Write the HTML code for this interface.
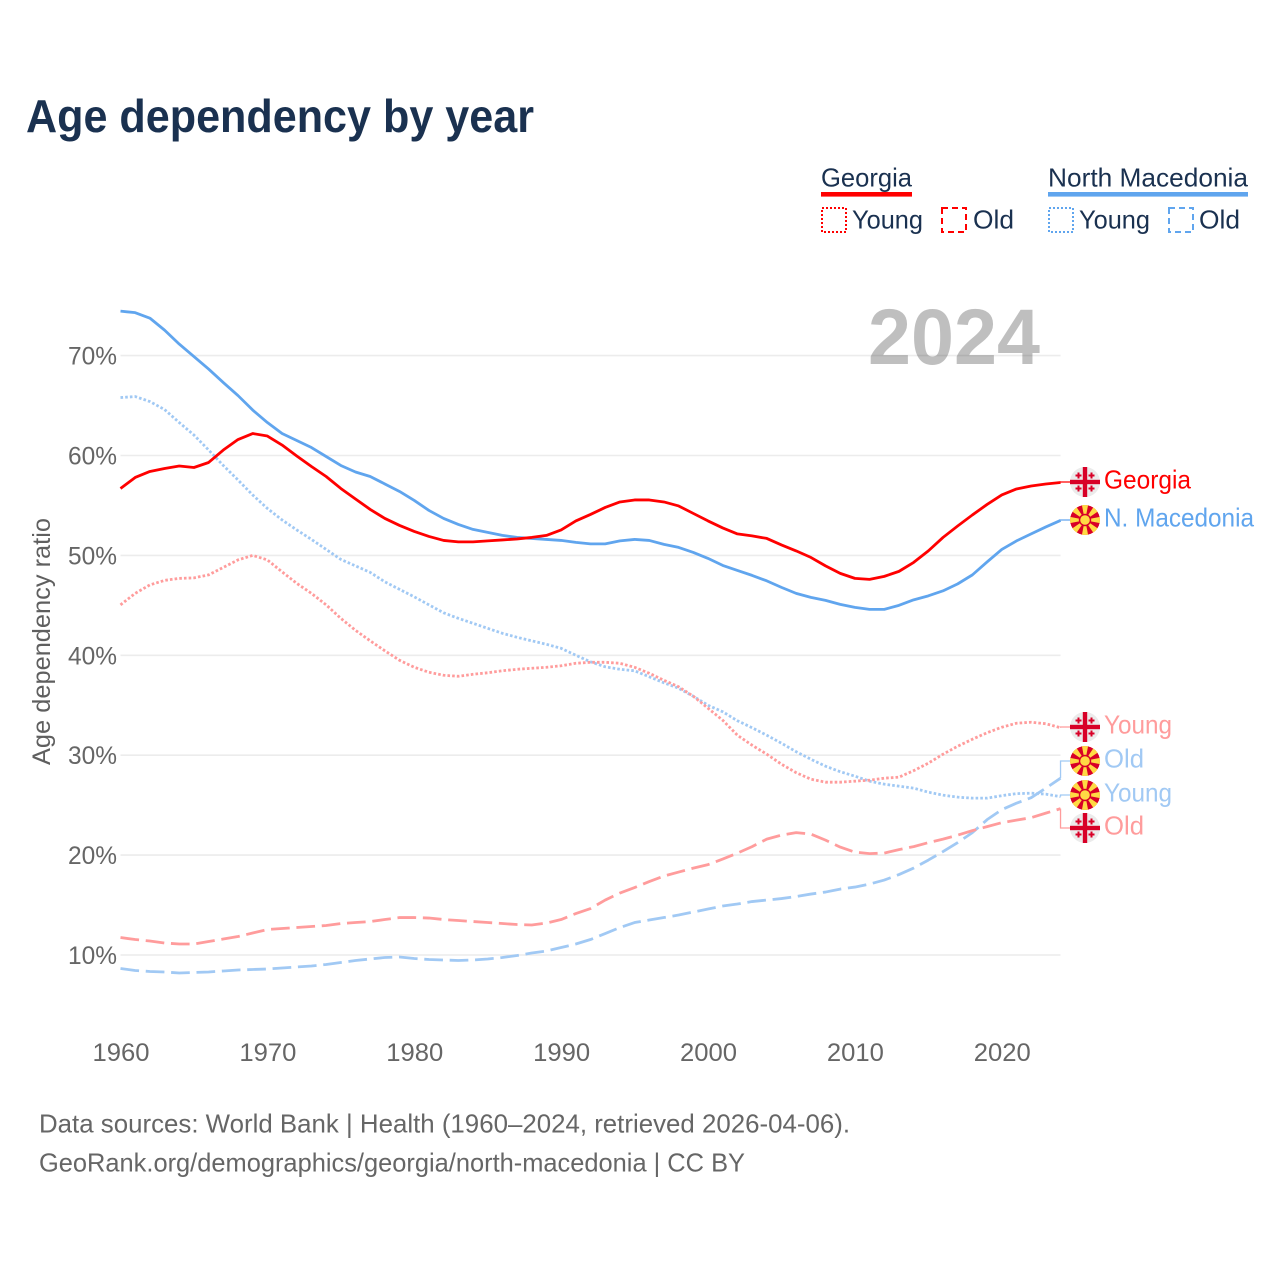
<!DOCTYPE html>
<html lang="en">
<head>
<meta charset="utf-8">
<title>Age dependency by year</title>
<style>
html,body{margin:0;padding:0;background:#fff;width:1280px;height:1280px;overflow:hidden}
svg{display:block}
text{font-family:"Liberation Sans",sans-serif}
</style>
</head>
<body>
<svg id="chart" xmlns="http://www.w3.org/2000/svg" width="1280" height="1280" viewBox="0 0 1280 1280">
<defs>
  <g id="flag-ge">
    <circle r="15" fill="#ebebeb"/>
    <rect x="-2.2" y="-15" width="4.4" height="30" fill="#d80027"/>
    <rect x="-15" y="-2.2" width="30" height="4.4" fill="#d80027"/>
    <g fill="#d80027">
      <path d="M-7.5-9.5h2v2h2v2h-2v2h-2v-2h-2v-2h2z"/>
      <path d="M5.5-9.5h2v2h2v2h-2v2h-2v-2h-2v-2h2z"/>
      <path d="M-7.5 3.5h2v2h2v2h-2v2h-2v-2h-2v-2h2z"/>
      <path d="M5.5 3.5h2v2h2v2h-2v2h-2v-2h-2v-2h2z"/>
    </g>
  </g>
  <clipPath id="flag-clip"><circle r="15"/></clipPath>
  <g id="flag-mk" clip-path="url(#flag-clip)">
    <circle r="15" fill="#d80027"/>
    <g fill="#ffda44">
      <path d="M-3.2-15.5h6.4L1-4h-2z"/>
      <path d="M-3.2-15.5h6.4L1-4h-2z" transform="rotate(45)"/>
      <path d="M-3.2-15.5h6.4L1-4h-2z" transform="rotate(90)"/>
      <path d="M-3.2-15.5h6.4L1-4h-2z" transform="rotate(135)"/>
      <path d="M-3.2-15.5h6.4L1-4h-2z" transform="rotate(180)"/>
      <path d="M-3.2-15.5h6.4L1-4h-2z" transform="rotate(225)"/>
      <path d="M-3.2-15.5h6.4L1-4h-2z" transform="rotate(270)"/>
      <path d="M-3.2-15.5h6.4L1-4h-2z" transform="rotate(315)"/>
    </g>
    <circle r="6.2" fill="#d80027"/>
    <circle r="4.8" fill="#ffda44"/>
  </g>
</defs>

<text x="26" y="132" font-size="46" font-weight="700" fill="#1a3150" textLength="508" lengthAdjust="spacingAndGlyphs">Age dependency by year</text>

<g>
  <text x="821" y="186.5" font-size="26" fill="#1a3150" textLength="91" lengthAdjust="spacingAndGlyphs">Georgia</text>
  <rect x="821" y="192" width="91" height="4.6" fill="#ff0000"/>
  <rect x="822" y="208" width="24" height="24" fill="none" stroke="#ff0000" stroke-width="2" stroke-dasharray="2 2"/>
  <text x="852" y="228.5" font-size="26" fill="#1a3150" textLength="71" lengthAdjust="spacingAndGlyphs">Young</text>
  <rect x="942" y="208" width="24" height="24" fill="none" stroke="#ff0000" stroke-width="2" stroke-dasharray="6 4"/>
  <text x="973" y="228.5" font-size="26" fill="#1a3150" textLength="41" lengthAdjust="spacingAndGlyphs">Old</text>

  <text x="1048" y="186.5" font-size="26" fill="#1a3150" textLength="200" lengthAdjust="spacingAndGlyphs">North Macedonia</text>
  <rect x="1048" y="192" width="200" height="4.6" fill="#60a5ee"/>
  <rect x="1049" y="208" width="24" height="24" fill="none" stroke="#60a5ee" stroke-width="2" stroke-dasharray="2 2"/>
  <text x="1079" y="228.5" font-size="26" fill="#1a3150" textLength="71" lengthAdjust="spacingAndGlyphs">Young</text>
  <rect x="1169" y="208" width="24" height="24" fill="none" stroke="#60a5ee" stroke-width="2" stroke-dasharray="6 4"/>
  <text x="1199" y="228.5" font-size="26" fill="#1a3150" textLength="41" lengthAdjust="spacingAndGlyphs">Old</text>
</g>

<g id="grid"></g>
<g id="yticks"></g>
<g id="xticks"></g>

<text x="868" y="364" font-size="79" font-weight="700" fill="#000000" fill-opacity="0.25" textLength="172" lengthAdjust="spacingAndGlyphs">2024</text>

<text transform="translate(50,765) rotate(-90)" font-size="25" fill="#5f5f5f" textLength="247" lengthAdjust="spacingAndGlyphs">Age dependency ratio</text>

<g id="series"></g>
<g id="connectors"></g>

<g>
  <use href="#flag-ge" x="1085" y="482"/>
  <text x="1104" y="488.5" font-size="26" fill="#ff0000" textLength="87" lengthAdjust="spacingAndGlyphs">Georgia</text>
  <use href="#flag-mk" x="1085" y="520"/>
  <text x="1104" y="526.5" font-size="26" fill="#60a5ee" textLength="150" lengthAdjust="spacingAndGlyphs">N. Macedonia</text>
  <use href="#flag-ge" x="1085" y="727"/>
  <text x="1104" y="733.5" font-size="26" fill="#ff9c9c" textLength="68" lengthAdjust="spacingAndGlyphs">Young</text>
  <use href="#flag-mk" x="1085" y="761"/>
  <text x="1104" y="767.5" font-size="26" fill="#a1c9f4" textLength="40" lengthAdjust="spacingAndGlyphs">Old</text>
  <use href="#flag-mk" x="1085" y="795"/>
  <text x="1104" y="801.5" font-size="26" fill="#a1c9f4" textLength="68" lengthAdjust="spacingAndGlyphs">Young</text>
  <use href="#flag-ge" x="1085" y="828"/>
  <text x="1104" y="834.5" font-size="26" fill="#ff9c9c" textLength="40" lengthAdjust="spacingAndGlyphs">Old</text>
</g>

<text x="39" y="1132.5" font-size="26" fill="#666666" textLength="811" lengthAdjust="spacingAndGlyphs">Data sources: World Bank | Health (1960–2024, retrieved 2026-04-06).</text>
<text x="39" y="1171.5" font-size="26" fill="#666666" textLength="706" lengthAdjust="spacingAndGlyphs">GeoRank.org/demographics/georgia/north-macedonia | CC BY</text>
</svg>

<script>
const firstYear = 1960;
const xTickLabels = [1960, 1970, 1980, 1990, 2000, 2010, 2020];
const yTickLabels = [10, 20, 30, 40, 50, 60, 70];

const georgiaTotal = [56.7,57.8,58.4,58.7,58.95,58.8,59.3,60.55,61.6,62.2,
61.95,61.05,59.95,58.9,57.9,56.7,55.65,54.6,53.7,53.0,
52.4,51.9,51.5,51.35,51.35,51.45,51.55,51.65,51.8,52.0,
52.55,53.45,54.1,54.8,55.35,55.55,55.55,55.35,54.95,54.2,
53.45,52.75,52.15,51.95,51.7,51.05,50.45,49.8,48.95,48.2,
47.7,47.6,47.9,48.4,49.3,50.45,51.8,52.95,54.05,55.1,
56.05,56.65,56.95,57.15,57.3];

const macedoniaTotal = [74.45,74.3,73.75,72.55,71.15,69.9,68.65,67.3,66.0,64.55,
63.3,62.2,61.5,60.8,59.9,59.0,58.35,57.9,57.15,56.4,
55.5,54.5,53.7,53.1,52.6,52.3,52.0,51.8,51.7,51.6,
51.5,51.3,51.15,51.15,51.45,51.6,51.5,51.1,50.8,50.3,
49.7,49.0,48.5,48.0,47.45,46.8,46.2,45.8,45.5,45.1,
44.8,44.6,44.6,45.0,45.55,45.95,46.45,47.15,48.05,49.35,
50.6,51.45,52.15,52.85,53.5];

const georgiaYoung = [45.05,46.2,47.05,47.5,47.7,47.75,48.05,48.8,49.55,50.0,
49.55,48.35,47.2,46.2,45.05,43.7,42.5,41.45,40.45,39.5,
38.8,38.3,38.0,37.9,38.1,38.25,38.45,38.6,38.7,38.8,
38.95,39.2,39.3,39.3,39.2,38.8,38.2,37.5,36.85,35.9,
34.7,33.5,32.0,31.0,30.1,29.1,28.25,27.6,27.3,27.3,
27.4,27.5,27.7,27.8,28.45,29.2,30.1,30.9,31.6,32.25,
32.8,33.2,33.3,33.15,32.75];

const macedoniaYoung = [65.8,65.9,65.4,64.6,63.3,62.05,60.55,59.0,57.55,56.05,
54.7,53.55,52.55,51.6,50.6,49.6,48.95,48.3,47.35,46.6,
45.85,45.05,44.25,43.7,43.2,42.7,42.2,41.8,41.45,41.1,
40.7,40.0,39.35,38.85,38.6,38.45,37.85,37.25,36.7,35.9,
35.0,34.35,33.45,32.75,32.0,31.2,30.35,29.6,28.9,28.35,
27.9,27.4,27.1,26.9,26.7,26.3,26.0,25.8,25.7,25.7,
25.95,26.15,26.2,26.1,25.85];

const georgiaOld = [11.75,11.55,11.4,11.2,11.1,11.1,11.35,11.6,11.85,12.2,
12.55,12.65,12.75,12.85,12.95,13.15,13.25,13.35,13.55,13.75,
13.75,13.7,13.55,13.45,13.35,13.25,13.15,13.05,13.0,13.2,
13.55,14.15,14.65,15.5,16.2,16.75,17.35,17.9,18.3,18.7,
19.05,19.6,20.2,20.85,21.6,22.0,22.25,22.1,21.5,20.8,
20.3,20.15,20.2,20.55,20.85,21.25,21.6,22.0,22.45,22.85,
23.25,23.5,23.75,24.2,24.65];

const macedoniaOld = [8.65,8.45,8.35,8.3,8.2,8.25,8.3,8.4,8.5,8.55,
8.6,8.7,8.8,8.9,9.05,9.25,9.45,9.6,9.75,9.8,
9.65,9.55,9.5,9.45,9.5,9.6,9.75,9.95,10.2,10.4,
10.75,11.1,11.55,12.15,12.75,13.25,13.5,13.75,14.0,14.3,
14.6,14.9,15.1,15.35,15.5,15.65,15.85,16.1,16.3,16.6,
16.8,17.1,17.5,18.05,18.7,19.5,20.35,21.25,22.25,23.55,
24.55,25.2,25.75,26.7,27.7];

const SVGNS = 'http://www.w3.org/2000/svg';
const xScale = function (year) { return 120.5 + (year - firstYear) * 14.688; };
const yScale = function (value) { return 1054.9 - value * 9.99; };
const pathFrom = function (values) {
  return values.map(function (v, i) {
    return (i ? 'L' : 'M') + xScale(firstYear + i).toFixed(2) + ' ' + yScale(v).toFixed(2);
  }).join('');
};
const lastYear = firstYear + georgiaTotal.length - 1;
const endX = xScale(lastYear);

const gridLayer = document.getElementById('grid');
const yTickLayer = document.getElementById('yticks');
const xTickLayer = document.getElementById('xticks');
const seriesLayer = document.getElementById('series');
const connectorLayer = document.getElementById('connectors');

yTickLabels.forEach(function (tick) {
  const line = document.createElementNS(SVGNS, 'line');
  
  
  line.setAttribute('x1', xScale(firstYear));
  line.setAttribute('x2', endX);
  line.setAttribute('y1', yScale(tick));
  line.setAttribute('y2', yScale(tick));
  line.setAttribute('stroke', '#ececec');
  line.setAttribute('stroke-width', '1.6');
  gridLayer.appendChild(line);

  const label = document.createElementNS(SVGNS, 'text');
  
  
  label.setAttribute('x', 68);
  label.setAttribute('y', yScale(tick) + 9);
  label.setAttribute('font-size', '25');
  label.setAttribute('fill', '#666666');
  label.setAttribute('textLength', '49');
  label.setAttribute('lengthAdjust', 'spacingAndGlyphs');
  label.textContent = tick + '%';
  yTickLayer.appendChild(label);
});

xTickLabels.forEach(function (year) {
  const label = document.createElementNS(SVGNS, 'text');
  
  
  label.setAttribute('x', xScale(year) - 28);
  label.setAttribute('y', 1061);
  label.setAttribute('font-size', '25');
  label.setAttribute('fill', '#666666');
  label.setAttribute('textLength', '57');
  label.setAttribute('lengthAdjust', 'spacingAndGlyphs');
  label.textContent = year;
  xTickLayer.appendChild(label);
});

function addSeries(name, values, color, dash) {
  const path = document.createElementNS(SVGNS, 'path');
  
  
  path.setAttribute('d', pathFrom(values));
  path.setAttribute('fill', 'none');
  path.setAttribute('stroke', color);
  path.setAttribute('stroke-width', '2.8');
  path.setAttribute('stroke-linejoin', 'round');
  if (dash) { path.setAttribute('stroke-dasharray', dash); }
  seriesLayer.appendChild(path);
}

addSeries('macedonia-old-line', macedoniaOld, '#a1c9f4', '18.7 6.7');
addSeries('georgia-old-line', georgiaOld, '#ff9c9c', '18.7 6.7');
addSeries('macedonia-young-line', macedoniaYoung, '#a1c9f4', '2.6 2.1');
addSeries('georgia-young-line', georgiaYoung, '#ff9c9c', '2.6 2.1');
addSeries('macedonia-total-line', macedoniaTotal, '#60a5ee', '');
addSeries('georgia-total-line', georgiaTotal, '#ff0000', '');

function addConnector(name, values, color, targetY) {
  const endY = yScale(values[values.length - 1]);
  const line = document.createElementNS(SVGNS, 'path');
  
  
  line.setAttribute('d', 'M' + endX + ' ' + endY + 'V' + targetY + 'H1071');
  line.setAttribute('fill', 'none');
  line.setAttribute('stroke', color);
  line.setAttribute('stroke-width', '1.3');
  connectorLayer.appendChild(line);
}

addConnector('georgia-connector', georgiaTotal, '#ff0000', 482);
addConnector('macedonia-connector', macedoniaTotal, '#60a5ee', 520);
addConnector('georgia-young-connector', georgiaYoung, '#ff9c9c', 727);
addConnector('macedonia-old-connector', macedoniaOld, '#a1c9f4', 761);
addConnector('macedonia-young-connector', macedoniaYoung, '#a1c9f4', 795);
addConnector('georgia-old-connector', georgiaOld, '#ff9c9c', 828);
</script>
</body>
</html>
